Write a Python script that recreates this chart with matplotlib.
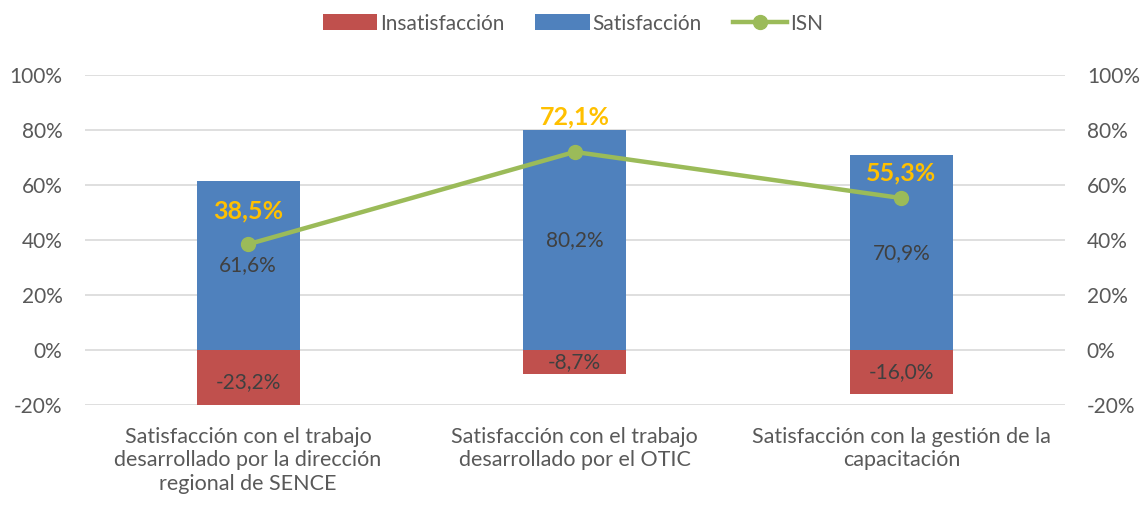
import numpy as np
import matplotlib.pyplot as plt
from matplotlib.ticker import FuncFormatter

categorias = ['Satisfacción con el trabajo\ndesarrollado por la dirección\nregional de SENCE',
              'Satisfacción con el trabajo\ndesarrollado por el OTIC',
              'Satisfacción con la gestión de la\ncapacitación']
insatisfaccion = [-23.2, -8.7, -16.0]
satisfaccion = [61.6, 80.2, 70.9]
isn = [38.5, 72.1, 55.3]

plt.rcParams['font.family'] = ['Lato', 'DejaVu Sans']

fig = plt.figure(figsize=(11.46, 5.05), dpi=100)
ax = fig.add_axes([0.074, 0.198, 0.855, 0.653])
x = np.arange(len(categorias))
w = 0.315

ax.bar(x, insatisfaccion, w, color='#C0504D', label='Insatisfacción', zorder=2)
ax.bar(x, satisfaccion, w, color='#4F81BD', label='Satisfacción', zorder=2)

ax.set_ylim(-20, 100)
ax.set_xlim(-0.5, 2.5)
ax.set_yticks(np.arange(-20, 101, 20))
pct = FuncFormatter(lambda v, p: '%d%%' % v)
ax.yaxis.set_major_formatter(pct)
ax.grid(axis='y', color='#D9D9D9', linewidth=1.2, zorder=0)
ax.set_axisbelow(True)
for s in ax.spines.values():
    s.set_visible(False)
ax.tick_params(length=0, labelsize=15, labelcolor='#595959', pad=16)
ax.tick_params(axis='x', pad=16)
ax.set_xticks(x)
ax.set_xticklabels(categorias, fontsize=15.5, color='#595959', linespacing=1.2)

for i in range(len(x)):
    ax.text(x[i], satisfaccion[i] / 2, ('%.1f%%' % satisfaccion[i]).replace('.', ','),
            ha='center', va='center', fontsize=15, color='#404040', zorder=3)
    ax.text(x[i], insatisfaccion[i] / 2, ('%.1f%%' % insatisfaccion[i]).replace('.', ','),
            ha='center', va='center', fontsize=15, color='#404040', zorder=3, clip_on=True)

ax2 = ax.twinx()
ax2.set_ylim(-20, 100)
ax2.set_yticks(np.arange(-20, 101, 20))
ax2.yaxis.set_major_formatter(pct)
for s in ax2.spines.values():
    s.set_visible(False)
ax2.tick_params(length=0, labelsize=15, labelcolor='#595959', pad=16)
ax2.plot(x, isn, color='#9BBB59', linewidth=3.2, marker='o', markersize=10, label='ISN', zorder=4)

# offsets of the ISN labels (points above the marker)
desp = [24, 25, 18]
for i in range(len(x)):
    ax2.annotate(('%.1f%%' % isn[i]).replace('.', ','), (x[i], isn[i]), xytext=(0, desp[i]),
                 textcoords='offset points', ha='center', va='center', fontsize=18,
                 fontweight='bold', color='#FFC000')

h1, l1 = ax.get_legend_handles_labels()
h2, l2 = ax2.get_legend_handles_labels()
fig.legend(h1 + h2, l1 + l2, loc='upper center', bbox_to_anchor=(0.5, 1.01), ncol=3,
           frameon=False, fontsize=15, labelcolor='#595959', handlelength=2.6,
           handletextpad=0.15, columnspacing=1.5, handleheight=0.8)

fig.savefig('out.png', dpi=100)
